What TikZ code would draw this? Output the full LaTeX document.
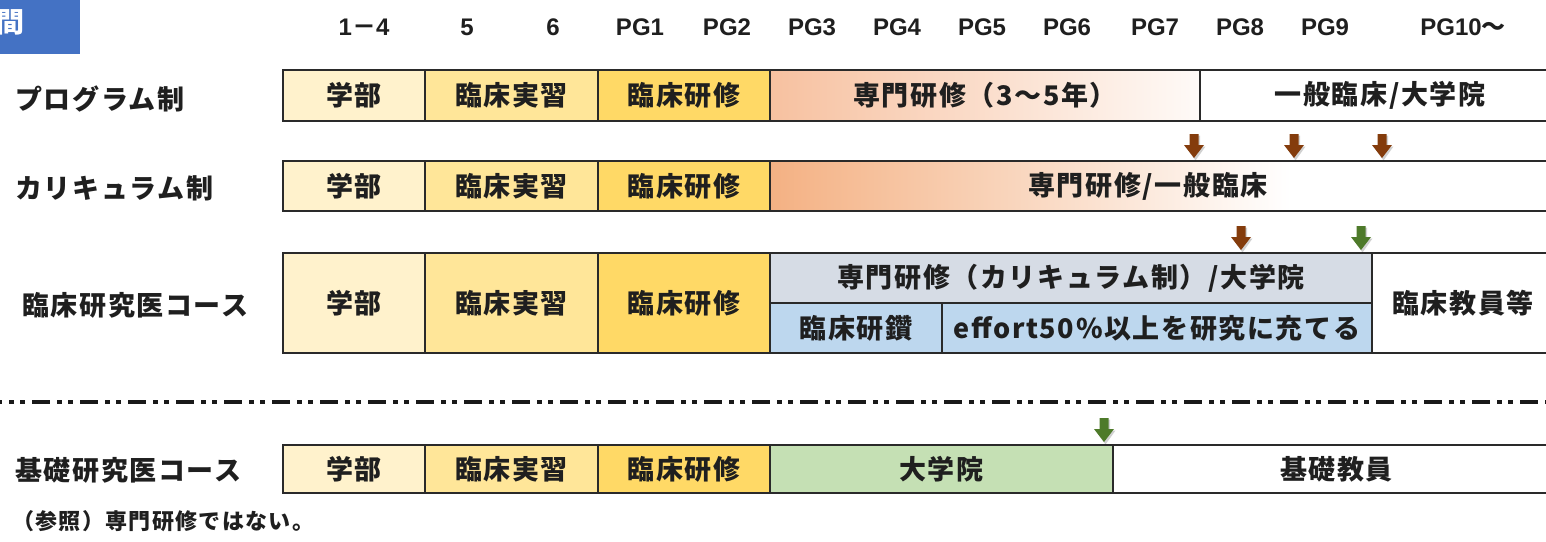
\documentclass[tikz,border=0pt]{standalone}
\usepackage{fontspec}
\setmainfont{Noto Sans CJK JP}[LetterSpace=6]
\newfontfamily\jpplain{Noto Sans CJK JP}
\newfontfamily\hdrfont{Liberation Sans}
\definecolor{cGak}{HTML}{FFF2CC}
\definecolor{cJis}{HTML}{FFE699}
\definecolor{cKen}{HTML}{FFD966}
\definecolor{cSal}{HTML}{F4B183}
\definecolor{cSalA}{HTML}{F7C1A0}
\definecolor{cGrayBlue}{HTML}{D6DCE5}
\definecolor{cLBlue}{HTML}{BDD7EE}
\definecolor{cGreen}{HTML}{C5E0B4}
\definecolor{cBrown}{HTML}{843C0C}
\definecolor{cDGreen}{HTML}{4E7A2A}
\definecolor{cBlue}{HTML}{4472C4}
\definecolor{cLine}{HTML}{2A2A2A}
\pgfdeclarehorizontalshading{senA}{100bp}{color(0bp)=(cSalA); color(25bp)=(cSalA); color(75bp)=(white!92!cSalA); color(100bp)=(white)}
\pgfdeclarehorizontalshading{senB}{100bp}{color(0bp)=(cSal); color(25bp)=(cSal); color(58bp)=(white); color(100bp)=(white)}
\newcommand\cellfont{\fontsize{27}{30}\selectfont\bfseries}
\newcommand\downarr[3]{%
  \fill[black,opacity=0.18] ({#1-4.5+1.5},{#2-26+1.5}) -- ({#1+4.5+1.5},{#2-26+1.5}) -- ({#1+4.5+1.5},{#2-15+1.5}) -- ({#1+10+1.5},{#2-15+1.5}) -- ({#1+1.5},{#2-1+1.5}) -- ({#1-10+1.5},{#2-15+1.5}) -- ({#1-4.5+1.5},{#2-15+1.5}) -- cycle;
  \fill[#3] ({#1-4.5},{#2-26}) -- ({#1+4.5},{#2-26}) -- ({#1+4.5},{#2-15}) -- ({#1+10},{#2-15}) -- ({#1},{#2-2}) -- ({#1-10},{#2-15}) -- ({#1-4.5},{#2-15}) -- cycle;}
\begin{document}
\begin{tikzpicture}[x=1pt,y=-1pt,
  cell/.style={draw=cLine, line width=1.4pt, inner sep=0pt, outer sep=0pt, anchor=north west, font=\cellfont, text=black!88},
  rowlabel/.style={anchor=west, inner sep=0pt, font=\cellfont, text=black!88},
  hdr/.style={inner sep=0pt, font=\hdrfont\fontsize{24}{28}\selectfont\bfseries, text=black!88},
  dashline/.style={line width=3.2pt, black!90, dash pattern=on 18pt off 7pt on 5pt off 6pt on 5pt off 7pt, dash phase=16pt}]
\useasboundingbox (0,0) rectangle (1546,541);
\fill[white] (0,0) rectangle (1546,541);
% title tab
\node[fill=cBlue, minimum width=95pt, minimum height=60pt, anchor=north east, inner sep=0pt] (tab) at (80,-6) {};
\node[text=white, font=\jpplain\fontsize{28}{30}\selectfont\bfseries, inner sep=0pt] (tabtxt) at (10,22) {間};
% header
\node[hdr] (h1) at (364,27) {1{\jpplain\bfseries －}4};
\node[hdr] (h5) at (467,27) {5};
\node[hdr] (h6) at (553,27) {6};
\node[hdr] (hp1) at (640,27) {PG1};
\node[hdr] (hp2) at (727,27) {PG2};
\node[hdr] (hp3) at (812,27) {PG3};
\node[hdr] (hp4) at (897,27) {PG4};
\node[hdr] (hp5) at (982,27) {PG5};
\node[hdr] (hp6) at (1067,27) {PG6};
\node[hdr] (hp7) at (1155,27) {PG7};
\node[hdr] (hp8) at (1240,27) {PG8};
\node[hdr] (hp9) at (1325,27) {PG9};
\node[hdr] (hp10) at (1463,27) {PG10{\jpplain\bfseries ～}};
% row labels
\node[rowlabel] (l1) at (15,99) {プログラム制};
\node[rowlabel] (l2) at (15,188) {カリキュラム制};
\node[rowlabel] (l3) at (22,305) {臨床研究医コース};
\node[rowlabel] (l4) at (15,470) {基礎研究医コース};
% row 1
\node[cell, fill=cGak, minimum width=142pt, minimum height=51pt] (a1) at (283,70) {学部};
\node[cell, fill=cJis, minimum width=173pt, minimum height=51pt] (a2) at (425,70) {臨床実習};
\node[cell, fill=cKen, minimum width=172pt, minimum height=51pt] (a3) at (598,70) {臨床研修};
\node[cell, shading=senA, minimum width=430pt, minimum height=51pt] (a4) at (770,70) {専門研修（3～5年）};
\node[cell, fill=white, minimum width=360pt, minimum height=51pt] (a5) at (1200,70) {一般臨床/大学院};
% row 2
\node[cell, fill=cGak, minimum width=142pt, minimum height=50pt] (b1) at (283,161) {学部};
\node[cell, fill=cJis, minimum width=173pt, minimum height=50pt] (b2) at (425,161) {臨床実習};
\node[cell, fill=cKen, minimum width=172pt, minimum height=50pt] (b3) at (598,161) {臨床研修};
\node[cell, shading=senB, minimum width=790pt, minimum height=50pt] (b4) at (770,161) {\hspace*{-34pt}専門研修/一般臨床};
% row 3
\node[cell, fill=cGak, minimum width=142pt, minimum height=100pt] (c1) at (283,253) {学部};
\node[cell, fill=cJis, minimum width=173pt, minimum height=100pt] (c2) at (425,253) {臨床実習};
\node[cell, fill=cKen, minimum width=172pt, minimum height=100pt] (c3) at (598,253) {臨床研修};
\node[cell, fill=cGrayBlue, minimum width=602pt, minimum height=50pt] (c4) at (770,253) {専門研修（カリキュラム制）/大学院};
\node[cell, fill=cLBlue, minimum width=172pt, minimum height=50pt] (c5) at (770,303) {臨床研鑽};
\node[cell, fill=cLBlue, minimum width=430pt, minimum height=50pt] (c6) at (942,303) {effort50\%以上を研究に充てる};
\node[cell, fill=white, minimum width=188pt, minimum height=100pt] (c7) at (1372,253) {\hspace*{-6pt}臨床教員等};
% separator
\coordinate (sl) at (0,402);
\coordinate (sr) at (1546,402);
\draw[dashline] (sl) -- (sr);
% row 4
\node[cell, fill=cGak, minimum width=142pt, minimum height=48pt] (d1) at (283,445) {学部};
\node[cell, fill=cJis, minimum width=173pt, minimum height=48pt] (d2) at (425,445) {臨床実習};
\node[cell, fill=cKen, minimum width=172pt, minimum height=48pt] (d3) at (598,445) {臨床研修};
\node[cell, fill=cGreen, minimum width=343pt, minimum height=48pt] (d4) at (770,445) {大学院};
\node[cell, fill=white, minimum width=447pt, minimum height=48pt] (d5) at (1113,445) {基礎教員};
% note
\node[anchor=west, inner sep=0pt, font=\fontsize{22}{24}\selectfont\bfseries, text=black!88] (note) at (12,521) {（参照）専門研修ではない。};
% arrows
\downarr{1194}{160}{cBrown}
\downarr{1294}{160}{cBrown}
\downarr{1382}{160}{cBrown}
\downarr{1241}{252}{cBrown}
\downarr{1361}{252}{cDGreen}
\downarr{1104}{444}{cDGreen}
\end{tikzpicture}
\end{document}
